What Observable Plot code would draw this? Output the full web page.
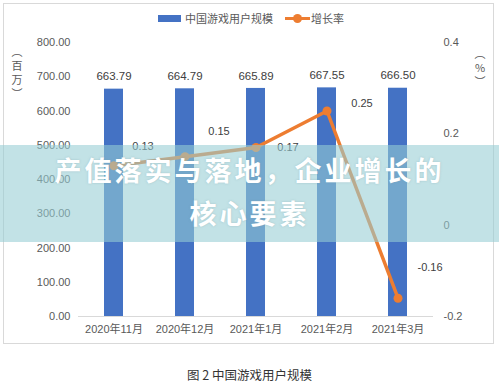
<!DOCTYPE html>
<html><head><meta charset="utf-8">
<script src="https://cdn.jsdelivr.net/npm/d3@7"></script>
<script src="https://cdn.jsdelivr.net/npm/@observablehq/plot@0.6"></script>
<style>
body{margin:0;background:#fff;font-family:"Liberation Sans","Noto Sans CJK SC",sans-serif;}
#wrap{position:relative;width:499px;height:388px;overflow:hidden;}
#frame{position:absolute;left:3px;top:3px;width:491px;height:341px;border:1px solid #d9d9d9;box-sizing:border-box;}
.abs{position:absolute;}
.leg{font-size:11px;color:#595959;font-family:"Noto Sans CJK SC",sans-serif;white-space:nowrap;}
.vt{font-family:"Noto Sans CJK SC",sans-serif;font-size:11px;color:#595959;text-align:center;line-height:14px;width:14px;}
#band{position:absolute;left:0;top:145px;width:499px;height:97px;background:rgba(150,205,212,0.58);}
#ov{position:absolute;left:0;width:499px;text-align:center;color:#fff;font-family:"Noto Sans CJK SC",sans-serif;font-weight:bold;font-size:27px;letter-spacing:3px;line-height:43px;top:148px;text-shadow:0 0 2px rgba(120,160,170,0.5);}
#cap{position:absolute;left:0;width:499px;top:365px;text-align:center;font-family:"Noto Sans CJK SC",sans-serif;font-size:12.5px;color:#333;}
</style></head>
<body><div id="wrap"><div id="frame"></div><div id="chart"></div>
<div class="abs" style="left:158px;top:15px;width:23px;height:7px;background:#4472C4"></div>
<div class="abs leg" style="left:185px;top:10px">中国游戏用户规模</div>
<div class="abs" style="left:285px;top:17px;width:25px;height:3px;background:#ED7D31"></div>
<div class="abs" style="left:293px;top:14px;width:9px;height:9px;border-radius:50%;background:#ED7D31"></div>
<div class="abs leg" style="left:311px;top:10px">增长率</div>
<div class="abs vt" style="left:10px;top:44px">︵<br>百<br>万<br>︶</div>
<div class="abs vt" style="left:473px;top:46px">︵<br>%<br>︶</div>
<div id="band"></div>
<div id="ov">产值落实与落地，企业增长的<br>核心要素</div>
<div id="cap">图 2 中国游戏用户规模</div>
</div>
<script>
const months = ["2020年11月","2020年12月","2021年1月","2021年2月","2021年3月"];
const users = [663.79, 664.79, 665.89, 667.55, 666.50];
const rates = [0.13, 0.15, 0.17, 0.25, -0.16];
const leftTicks = [0,100,200,300,400,500,600,700,800];
const rightTicks = [-0.2, 0, 0.2, 0.4];
const labelDx = [29, 34, 32, 35, 32];
const labelDy = [-19, -25, 0, -8, -31];

const toY = d3.scaleLinear().domain([-0.2, 0.4]).range([0, 800]);
const data = months.map((m,i)=>({m, u:users[i], r:rates[i], ry:toY(rates[i]), i}));
const fmt2 = d3.format(".2f");
const rateLabel = v => String(+toY.invert(v).toFixed(2));

const plot = Plot.plot({
  width: 499, height: 388,
  marginLeft: 78, marginRight: 66, marginTop: 42, marginBottom: 72,
  style: {fontFamily: '"Liberation Sans","Noto Sans CJK SC",sans-serif', fontSize: "11px", background: "transparent", overflow: "visible"},
  x: {domain: months, paddingInner: 0.73, paddingOuter: 0.365, label: null},
  y: {domain: [0, 800], label: null},
  marks: [
    Plot.barY(data, {x: "m", y: "u", fill: "#4472C4"}),
    Plot.ruleY([0], {stroke: "#d9d9d9"}),
    Plot.axisY({ticks: leftTicks, tickFormat: fmt2, tickSize: 0, tickPadding: 8, label: null, fill: "#595959", fontSize: 11}),
    Plot.axisY({anchor: "right", ticks: rightTicks.map(toY), tickFormat: rateLabel, tickSize: 0, tickPadding: 10, label: null, fill: "#595959", fontSize: 11}),
    Plot.axisX({tickSize: 0, tickPadding: 9, label: null, fill: "#595959", fontSize: 11, fontFamily: '"Liberation Sans","Noto Sans CJK SC",sans-serif'}),
    Plot.text(data, {x: "m", y: "u", text: d => fmt2(d.u), dy: -12.5, fill: "#404040", fontSize: 11.5}),
    Plot.line(data, {x: "m", y: "ry", stroke: "#ED7D31", strokeWidth: 3.5}),
    Plot.dot(data, {x: "m", y: "ry", r: 4.5, fill: "#ED7D31"}),
    ...data.map(d => Plot.text([d], {x: "m", y: "ry", text: e => String(e.r), dx: labelDx[d.i], dy: labelDy[d.i], fill: "#404040", fontSize: 11}))
  ]
});
document.getElementById("chart").appendChild(plot);
</script></body></html>
